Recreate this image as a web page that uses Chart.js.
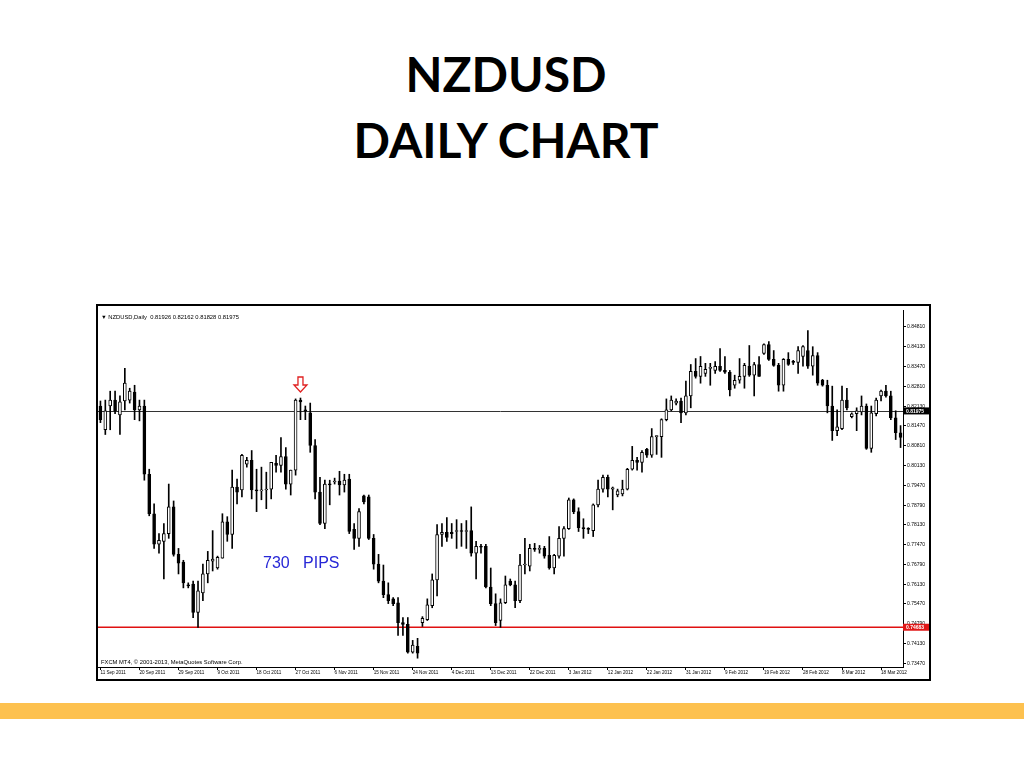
<!DOCTYPE html>
<html>
<head>
<meta charset="utf-8">
<title>NZDUSD Daily Chart</title>
<script src="https://cdn.jsdelivr.net/npm/chart.js@4.4.1/dist/chart.umd.min.js"></script>
<style>
  html, body { margin: 0; padding: 0; background: #fff; }
  body { width: 1024px; height: 768px; position: relative; overflow: hidden; }
  #title {
    position: absolute; left: 0; top: 41px; width: 1012px;
    text-align: center; font-family: Lato, "Open Sans", sans-serif;
    font-weight: 700; font-size: 48px; line-height: 66px; color: #000;
  }
  #frame {
    position: absolute; left: 96px; top: 304px;
    width: 831px; height: 373px; border: 2px solid #000;
  }
  #band { position: absolute; left: 0; top: 703px; width: 1024px; height: 16px; background: #fdc14f; }
</style>
</head>
<body>
<div id="title">NZDUSD<br>DAILY CHART</div>
<div id="frame"><canvas id="chart" width="831" height="373"></canvas></div>
<div id="band"></div>

<script>
// Bar dates shown on the time axis (one label every 8 bars)
const dateLabels = ['11 Sep 2011', '20 Sep 2011', '29 Sep 2011', '9 Oct 2011', '18 Oct 2011',
    '27 Oct 2011', '6 Nov 2011', '15 Nov 2011', '24 Nov 2011', '4 Dec 2011', '13 Dec 2011',
    '22 Dec 2011', '3 Jan 2012', '12 Jan 2012', '22 Jan 2012', '31 Jan 2012', '9 Feb 2012',
    '19 Feb 2012', '28 Feb 2012', '8 Mar 2012', '18 Mar 2012'];
const labelEvery = 8;

// Price axis tick labels
const priceTicks = [0.84810, 0.84130, 0.83470, 0.82810, 0.82130, 0.81470, 0.80810, 0.80130,
    0.79470, 0.78790, 0.78130, 0.77470, 0.76790, 0.76130, 0.75470, 0.74790, 0.74130, 0.73470];

// Daily OHLC
const opens = [
    0.8214, 0.8134, 0.8214, 0.8234, 0.8184, 0.8231, 0.8234, 0.8261, 0.8201, 0.8214,
    0.7984, 0.7851, 0.7748, 0.7758, 0.7784, 0.7874, 0.7714, 0.7688, 0.7611, 0.7614,
    0.7518, 0.7584, 0.7648, 0.7691, 0.7668, 0.7701, 0.7824, 0.7781, 0.7941, 0.7931,
    0.8018, 0.8031, 0.7931, 0.7928, 0.7931, 0.7934, 0.8021, 0.8014, 0.8044, 0.7951,
    0.7998, 0.8234, 0.8201, 0.8191, 0.8081, 0.7924, 0.7818, 0.7951, 0.7958, 0.7961,
    0.7948, 0.7968, 0.7798, 0.7768, 0.7911, 0.7908, 0.7768, 0.7681, 0.7624, 0.7578,
    0.7564, 0.7551, 0.7484, 0.7478, 0.7384, 0.7404, 0.7484, 0.7494, 0.7541, 0.7628,
    0.7781, 0.7788, 0.7788, 0.7791, 0.7794, 0.7791, 0.7794, 0.7718, 0.7741, 0.7741,
    0.7604, 0.7548, 0.7491, 0.7551, 0.7624, 0.7611, 0.7558, 0.7678, 0.7674, 0.7734,
    0.7731, 0.7734, 0.7711, 0.7668, 0.7708, 0.7768, 0.7801, 0.7898, 0.7858, 0.7804,
    0.7801, 0.7794, 0.7881, 0.7934, 0.7974, 0.7934, 0.7914, 0.7918, 0.7934, 0.8001,
    0.8031, 0.8024, 0.8068, 0.8048, 0.8111, 0.8111, 0.8168, 0.8201, 0.8224, 0.8231,
    0.8191, 0.8248, 0.8331, 0.8314, 0.8324, 0.8341, 0.8334, 0.8348, 0.8334, 0.8328,
    0.8284, 0.8301, 0.8314, 0.8348, 0.8318, 0.8354, 0.8391, 0.8421, 0.8371, 0.8351,
    0.8284, 0.8371, 0.8364, 0.8361, 0.8381, 0.8401, 0.8348, 0.8384, 0.8301, 0.8284,
    0.8214, 0.8131, 0.8138, 0.8234, 0.8178, 0.8188, 0.8194, 0.8214, 0.8071, 0.8188,
    0.8248, 0.8264, 0.8248, 0.8174, 0.8124
];
const highs = [
    0.8231, 0.8234, 0.8264, 0.8264, 0.8248, 0.8341, 0.8274, 0.8284, 0.8234, 0.8234,
    0.8001, 0.7884, 0.7784, 0.7818, 0.7951, 0.7894, 0.7734, 0.7694, 0.7618, 0.7624,
    0.7624, 0.7681, 0.7724, 0.7794, 0.7708, 0.7851, 0.7841, 0.7998, 0.7968, 0.8051,
    0.8041, 0.8064, 0.8001, 0.8008, 0.7991, 0.8024, 0.8048, 0.8108, 0.8074, 0.7998,
    0.8238, 0.8241, 0.8214, 0.8224, 0.8101, 0.7974, 0.7964, 0.7964, 0.7971, 0.7994,
    0.7984, 0.7984, 0.7818, 0.7868, 0.7914, 0.7914, 0.7781, 0.7714, 0.7678, 0.7618,
    0.7568, 0.7568, 0.7501, 0.7501, 0.7424, 0.7431, 0.7504, 0.7564, 0.7648, 0.7814,
    0.7818, 0.7838, 0.7818, 0.7831, 0.7818, 0.7828, 0.7874, 0.7758, 0.7748, 0.7748,
    0.7668, 0.7581, 0.7564, 0.7641, 0.7631, 0.7624, 0.7714, 0.7768, 0.7748, 0.7751,
    0.7744, 0.7741, 0.7774, 0.7714, 0.7808, 0.7808, 0.7904, 0.7901, 0.7871, 0.7834,
    0.7804, 0.7884, 0.7964, 0.7981, 0.7981, 0.7941, 0.7934, 0.7964, 0.8004, 0.8078,
    0.8041, 0.8064, 0.8071, 0.8138, 0.8114, 0.8171, 0.8238, 0.8248, 0.8238, 0.8241,
    0.8298, 0.8354, 0.8374, 0.8381, 0.8358, 0.8358, 0.8364, 0.8408, 0.8381, 0.8334,
    0.8318, 0.8374, 0.8358, 0.8418, 0.8361, 0.8381, 0.8424, 0.8431, 0.8401, 0.8358,
    0.8374, 0.8394, 0.8368, 0.8414, 0.8418, 0.8468, 0.8414, 0.8394, 0.8304, 0.8301,
    0.8281, 0.8201, 0.8281, 0.8274, 0.8191, 0.8208, 0.8248, 0.8221, 0.8214, 0.8241,
    0.8268, 0.8284, 0.8264, 0.8198, 0.8148
];
const lows = [
    0.8158, 0.8118, 0.8134, 0.8188, 0.8118, 0.8201, 0.8224, 0.8168, 0.8164, 0.7964,
    0.7844, 0.7734, 0.7718, 0.7631, 0.7768, 0.7708, 0.7648, 0.7601, 0.7601, 0.7501,
    0.7468, 0.7558, 0.7618, 0.7658, 0.7664, 0.7701, 0.7758, 0.7734, 0.7884, 0.7908,
    0.8008, 0.7901, 0.7858, 0.7898, 0.7868, 0.7901, 0.7991, 0.7991, 0.7934, 0.7914,
    0.7981, 0.8168, 0.8168, 0.8058, 0.7901, 0.7814, 0.7801, 0.7881, 0.7951, 0.7914,
    0.7924, 0.7784, 0.7731, 0.7741, 0.7884, 0.7764, 0.7664, 0.7618, 0.7568, 0.7548,
    0.7541, 0.7441, 0.7441, 0.7381, 0.7381, 0.7364, 0.7471, 0.7491, 0.7534, 0.7574,
    0.7741, 0.7758, 0.7768, 0.7734, 0.7741, 0.7734, 0.7708, 0.7631, 0.7718, 0.7601,
    0.7541, 0.7474, 0.7468, 0.7548, 0.7608, 0.7534, 0.7551, 0.7648, 0.7658, 0.7724,
    0.7718, 0.7701, 0.7664, 0.7648, 0.7701, 0.7708, 0.7798, 0.7851, 0.7791, 0.7768,
    0.7784, 0.7774, 0.7874, 0.7924, 0.7908, 0.7864, 0.7908, 0.7911, 0.7931, 0.7998,
    0.7998, 0.7991, 0.8041, 0.8041, 0.8051, 0.8041, 0.8164, 0.8198, 0.8218, 0.8158,
    0.8184, 0.8208, 0.8308, 0.8291, 0.8314, 0.8284, 0.8324, 0.8331, 0.8324, 0.8248,
    0.8274, 0.8291, 0.8274, 0.8314, 0.8248, 0.8314, 0.8388, 0.8368, 0.8348, 0.8264,
    0.8264, 0.8351, 0.8354, 0.8324, 0.8348, 0.8341, 0.8318, 0.8284, 0.8281, 0.8191,
    0.8098, 0.8114, 0.8134, 0.8201, 0.8174, 0.8131, 0.8184, 0.8068, 0.8058, 0.8181,
    0.8231, 0.8244, 0.8168, 0.8101, 0.8074
];
const closes = [
    0.8168, 0.8198, 0.8234, 0.8198, 0.8228, 0.8291, 0.8264, 0.8201, 0.8214, 0.7984,
    0.7851, 0.7748, 0.7761, 0.7784, 0.7874, 0.7714, 0.7684, 0.7618, 0.7608, 0.7518,
    0.7591, 0.7648, 0.7694, 0.7698, 0.7704, 0.7824, 0.7781, 0.7941, 0.7924, 0.8048,
    0.8031, 0.7931, 0.7928, 0.7931, 0.7934, 0.8024, 0.8014, 0.8044, 0.7951, 0.7998,
    0.8234, 0.8228, 0.8198, 0.8081, 0.7924, 0.7818, 0.7951, 0.7948, 0.7961, 0.7948,
    0.7964, 0.7791, 0.7768, 0.7858, 0.7891, 0.7768, 0.7681, 0.7624, 0.7578, 0.7558,
    0.7548, 0.7484, 0.7478, 0.7384, 0.7408, 0.7381, 0.7498, 0.7544, 0.7628, 0.7781,
    0.7788, 0.7771, 0.7784, 0.7794, 0.7791, 0.7794, 0.7718, 0.7741, 0.7738, 0.7604,
    0.7548, 0.7484, 0.7551, 0.7611, 0.7611, 0.7558, 0.7678, 0.7681, 0.7734, 0.7731,
    0.7734, 0.7708, 0.7668, 0.7711, 0.7768, 0.7801, 0.7898, 0.7858, 0.7804, 0.7801,
    0.7798, 0.7881, 0.7934, 0.7974, 0.7934, 0.7938, 0.7928, 0.7934, 0.8001, 0.8031,
    0.8024, 0.8058, 0.8048, 0.8111, 0.8114, 0.8168, 0.8201, 0.8234, 0.8231, 0.8191,
    0.8248, 0.8331, 0.8314, 0.8348, 0.8338, 0.8344, 0.8348, 0.8334, 0.8328, 0.8268,
    0.8301, 0.8314, 0.8351, 0.8318, 0.8354, 0.8314, 0.8421, 0.8371, 0.8351, 0.8284,
    0.8371, 0.8354, 0.8361, 0.8401, 0.8414, 0.8348, 0.8384, 0.8291, 0.8284, 0.8214,
    0.8131, 0.8144, 0.8234, 0.8208, 0.8188, 0.8198, 0.8214, 0.8071, 0.8191, 0.8234,
    0.8264, 0.8248, 0.8174, 0.8124, 0.8108
];

// Horizontal levels
const bidLevel = 0.81975;
const supportLevel = 0.74683;
const arrowBar = 41;
const headerText = '\u25BC NZDUSD,Daily  0.81926 0.82162 0.81828 0.81975';
const footerText = 'FXCM MT4, \u00A9 2001-2013, MetaQuotes Software Corp.';
const pipsText = '730   PIPS';

// Category labels: a date every 8 bars, blank otherwise
const barLabels = opens.map((o, i) => (i % labelEvery === 0 ? (dateLabels[i / labelEvery] || '') : ''));

// Overlay plugin: levels, arrow, texts, price boxes
const overlay = {
    id: 'overlay',
    beforeDatasetsDraw(chart) {
        const { ctx, chartArea: a, scales: { y } } = chart;
        ctx.save();
        // bid line
        let py = Math.round(y.getPixelForValue(bidLevel)) + 0.5;
        ctx.strokeStyle = '#333';
        ctx.lineWidth = 1;
        ctx.beginPath();
        ctx.moveTo(a.left, py);
        ctx.lineTo(a.right, py);
        ctx.stroke();
        // support line
        py = y.getPixelForValue(supportLevel);
        ctx.strokeStyle = '#e01010';
        ctx.lineWidth = 1.5;
        ctx.beginPath();
        ctx.moveTo(a.left, py);
        ctx.lineTo(a.right, py);
        ctx.stroke();
        ctx.restore();
    },
    afterDraw(chart) {
        const { ctx, chartArea: a, scales: { x, y } } = chart;
        ctx.save();

        // header & footer
        ctx.fillStyle = '#000';
        ctx.font = '5.8px "Liberation Sans", Arial, sans-serif';
        ctx.textBaseline = 'middle';
        ctx.textAlign = 'left';
        ctx.fillText(headerText, a.left + 3, a.top + 7);
        ctx.fillText(footerText, a.left + 3, a.bottom - 5);

        // pips note
        ctx.fillStyle = '#2727d6';
        ctx.font = '16px "Liberation Sans", Arial, sans-serif';
        ctx.textBaseline = 'alphabetic';
        ctx.fillText(pipsText, a.left + 165, a.top + 258);

        // red hollow arrow above the top bar
        const ax = x.getPixelForValue(arrowBar);
        const top = y.getPixelForValue(highs[arrowBar]) - 21;
        ctx.beginPath();
        ctx.moveTo(ax - 2.5, top);
        ctx.lineTo(ax + 2.5, top);
        ctx.lineTo(ax + 2.5, top + 8);
        ctx.lineTo(ax + 6.5, top + 8);
        ctx.lineTo(ax, top + 15);
        ctx.lineTo(ax - 6.5, top + 8);
        ctx.lineTo(ax - 2.5, top + 8);
        ctx.closePath();
        ctx.fillStyle = '#fff';
        ctx.fill();
        ctx.strokeStyle = '#e02020';
        ctx.lineWidth = 1.3;
        ctx.stroke();

        // price boxes on the axis
        const box = (v, bg) => {
            const py = y.getPixelForValue(v);
            ctx.fillStyle = bg;
            ctx.fillRect(a.right, py - 3.5, chart.width - a.right, 7);
            ctx.fillStyle = '#fff';
            ctx.font = 'bold 5px "Liberation Sans", Arial, sans-serif';
            ctx.textBaseline = 'middle';
            ctx.fillText(v.toFixed(5), a.right + 3, py + 0.3);
        };
        box(bidLevel, '#000');
        box(supportLevel, '#e01818');
        ctx.restore();
    }
};

const ctx = document.getElementById('chart').getContext('2d');
const chart = new Chart(ctx, {
    type: 'bar',
    data: {
        labels: barLabels,
        datasets: [{
            label: 'Range',
            data: lows.map((l, i) => [l, highs[i]]),
            backgroundColor: '#000',
            barThickness: 1,
            grouped: false,
            order: 2
        }, {
            label: 'Body',
            data: opens.map((o, i) => [o, closes[i]]),
            backgroundColor: opens.map((o, i) => (closes[i] >= o ? '#fff' : '#000')),
            borderColor: '#000',
            borderWidth: 1,
            borderSkipped: false,
            barThickness: 3,
            minBarLength: 1,
            grouped: false,
            order: 1
        }]
    },
    options: {
        responsive: false,
        devicePixelRatio: 1,
        animation: false,
        layout: { padding: 0 },
        plugins: {
            legend: { display: false },
            tooltip: { enabled: false }
        },
        scales: {
            x: {
                type: 'category',
                offset: true,
                grid: {
                    offset: false,
                    drawOnChartArea: false,
                    tickLength: 3,
                    color: c => (c.tick && c.tick.label ? '#000' : 'rgba(0,0,0,0)')
                },
                border: { color: '#000', width: 1 },
                ticks: {
                    autoSkip: false,
                    maxRotation: 0,
                    minRotation: 0,
                    align: 'start',
                    padding: 0,
                    color: '#000',
                    font: { size: 4.6, family: '"Liberation Sans", Arial, sans-serif' }
                },
                afterFit(s) { s.height = 12; }
            },
            y: {
                position: 'right',
                min: 0.73343,
                max: 0.85377,
                afterBuildTicks(s) { s.ticks = priceTicks.map(v => ({ value: v })); },
                grid: { drawOnChartArea: false, tickLength: 3, color: '#000' },
                border: { color: '#000', width: 1 },
                ticks: {
                    autoSkip: false,
                    padding: 1,
                    color: '#000',
                    font: { size: 5, family: '"Liberation Sans", Arial, sans-serif' },
                    callback: v => Number(v).toFixed(5)
                },
                afterFit(s) { s.width = 26; }
            }
        }
    },
    plugins: [overlay]
});
</script>
</body>
</html>
